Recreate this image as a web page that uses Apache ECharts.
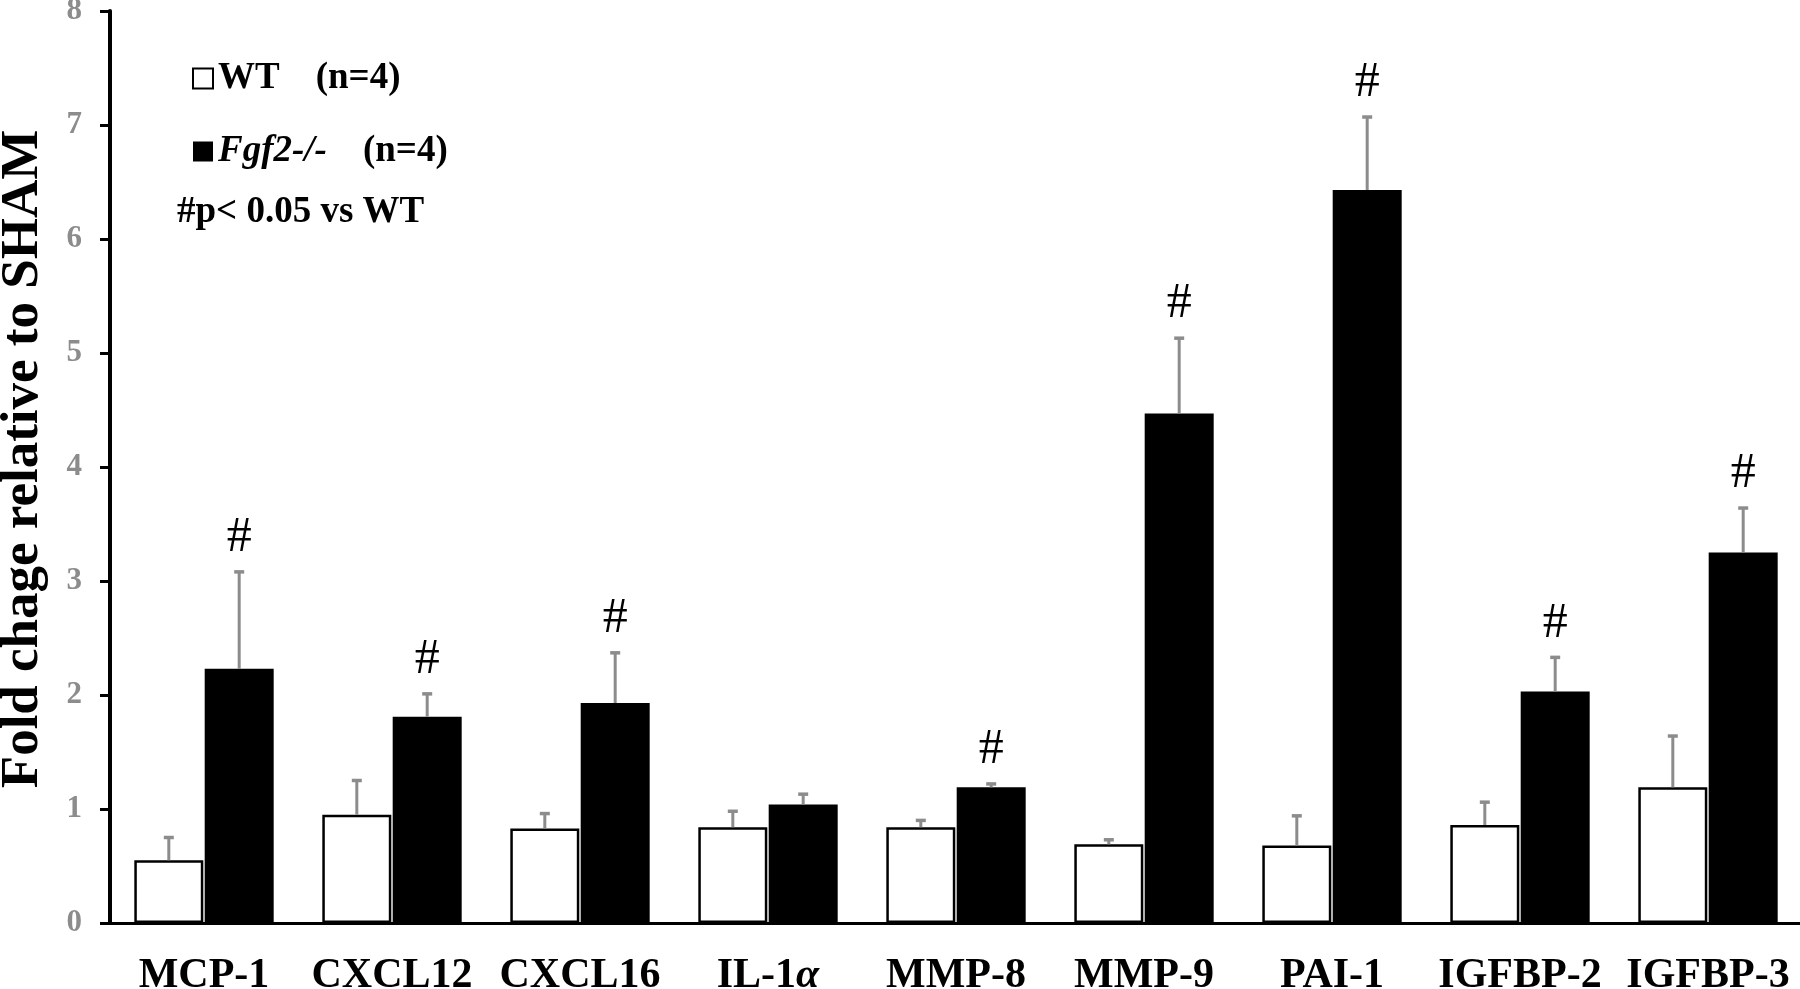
<!DOCTYPE html>
<html>
<head>
<meta charset="utf-8">
<script src="https://cdn.jsdelivr.net/npm/echarts@6/dist/echarts.min.js"></script>
<style>
  html, body { margin: 0; padding: 0; background: #fff; }
  #chart { width: 1800px; height: 989px; }
</style>
</head>
<body>
<div id="chart"></div>
<script>
// ---- data ----
const categories = ['MCP-1', 'CXCL12', 'CXCL16', 'IL-1α', 'MMP-8', 'MMP-9', 'PAI-1', 'IGFBP-2', 'IGFBP-3'];
const wtMean   = [0.55, 0.95, 0.83, 0.84, 0.84, 0.69, 0.68, 0.86, 1.19];
const wtErr    = [0.20, 0.30, 0.13, 0.14, 0.06, 0.04, 0.26, 0.20, 0.45];
const koMean   = [2.23, 1.81, 1.93, 1.04, 1.19, 4.47, 6.43, 2.03, 3.25];
const koErr    = [0.85, 0.20, 0.44, 0.09, 0.03, 0.66, 0.64, 0.30, 0.39];
const koSig    = [1, 1, 1, 0, 1, 1, 1, 1, 1];
const yTicks   = [0, 1, 2, 3, 4, 5, 6, 7, 8];
const seriesNames = ['WT', 'Fgf2-/-'];
const sampleN  = ['(n=4)', '(n=4)'];
const noteText = '#p< 0.05 vs WT';
const yTitle   = 'Fold chage relative to SHAM';

// ---- layout / style ----
const SERIF = '"Liberation Serif", "Times New Roman", serif';
const BAR_W = 69;
const BAR_GAP_PCT = 2;
const GAP_PX = BAR_W * BAR_GAP_PCT / 100;
const OFFSETS = [-(BAR_W + GAP_PX) / 2, (BAR_W + GAP_PX) / 2];
const ERR_COLOR = '#8c8c8c';

function errSeries(means, errs, sigs, k) {
  return {
    type: 'custom',
    z: 5,
    silent: true,
    data: means.map((m, i) => [i, m, errs[i], sigs ? sigs[i] : 0]),
    renderItem: function (params, api) {
      const idx = api.value(0), m = api.value(1), e = api.value(2), s = api.value(3);
      const base = api.coord([idx, m]);
      const top = api.coord([idx, m + e]);
      const x = base[0] + OFFSETS[k];
      const children = [
        { type: 'line', shape: { x1: x, y1: base[1], x2: x, y2: top[1] },
          style: { stroke: ERR_COLOR, lineWidth: 3 } },
        { type: 'line', shape: { x1: x - 5, y1: top[1], x2: x + 5, y2: top[1] },
          style: { stroke: ERR_COLOR, lineWidth: 3.5 } }
      ];
      if (s) {
        children.push({ type: 'text', x: x, y: top[1] - 34,
          style: { text: '#', font: '50px ' + SERIF, fill: '#000',
                   align: 'center', verticalAlign: 'middle' } });
      }
      return { type: 'group', children: children };
    }
  };
}

const chart = echarts.init(document.getElementById('chart'), null, { renderer: 'canvas' });
chart.setOption({
  animation: false,
  backgroundColor: '#fff',
  grid: { left: 110, top: 11, width: 1692, height: 912, containLabel: false, outerBoundsMode: 'none' },
  legend: {
    data: seriesNames,
    orient: 'vertical',
    left: 192, top: 60,
    padding: 0,
    itemWidth: 20, itemHeight: 20, itemGap: 36,
    icon: 'rect',
    selectedMode: false,
    formatter: function (name) {
      const i = seriesNames.indexOf(name);
      return (i === 0 ? '{b|' + name + '}' : '{i|' + name + '}') + '{n|' + sampleN[i] + '}';
    },
    textStyle: {
      rich: {
        b: { fontFamily: SERIF, fontWeight: 'bold', fontSize: 37, color: '#000', lineHeight: 38 },
        i: { fontFamily: SERIF, fontWeight: 'bold', fontStyle: 'italic', fontSize: 37, color: '#000', lineHeight: 38 },
        n: { fontFamily: SERIF, fontWeight: 'bold', fontSize: 37, color: '#000', lineHeight: 38, padding: [0, 0, 0, 36] }
      }
    }
  },
  graphic: [{
    type: 'text', left: 177, top: 194,
    style: { text: noteText, font: 'bold 37px ' + SERIF, fill: '#000' }
  }],
  xAxis: {
    type: 'category',
    data: categories,
    axisLine: { lineStyle: { color: '#000', width: 3 } },
    axisTick: { show: false },
    axisLabel: {
      interval: 0, margin: 32,
      fontFamily: SERIF, fontWeight: 'bold', fontSize: 42, color: '#000',
      formatter: function (v) { return v.indexOf('α') >= 0 ? v.replace('α', '') + '{a|α}' : v; },
      rich: { a: { fontFamily: SERIF, fontWeight: 'bold', fontStyle: 'italic', fontSize: 42, color: '#000' } }
    },
    splitLine: { show: false }
  },
  yAxis: {
    type: 'value',
    min: yTicks[0], max: yTicks[yTicks.length - 1], interval: 1,
    name: yTitle,
    nameLocation: 'middle',
    nameRotate: 90,
    nameGap: 60,
    nameTextStyle: { fontFamily: SERIF, fontWeight: 'bold', fontSize: 53, color: '#000', padding: [0, 0, 0, 16] },
    axisLine: { show: true, lineStyle: { color: '#000', width: 4 } },
    axisTick: { show: true, inside: false, length: 10, lineStyle: { color: '#000', width: 3 } },
    axisLabel: { margin: 28, fontFamily: SERIF, fontWeight: 'bold', fontSize: 31, color: '#8c8c8c' },
    splitLine: { show: false }
  },
  series: [
    { name: seriesNames[0], type: 'bar', data: wtMean, barWidth: BAR_W, barGap: BAR_GAP_PCT + '%',
      itemStyle: { color: '#fff', borderColor: '#000', borderWidth: 2.5 } },
    { name: seriesNames[1], type: 'bar', data: koMean, barWidth: BAR_W, barGap: BAR_GAP_PCT + '%',
      itemStyle: { color: '#000' } },
    errSeries(wtMean, wtErr, null, 0),
    errSeries(koMean, koErr, koSig, 1)
  ]
});
</script>
</body>
</html>
